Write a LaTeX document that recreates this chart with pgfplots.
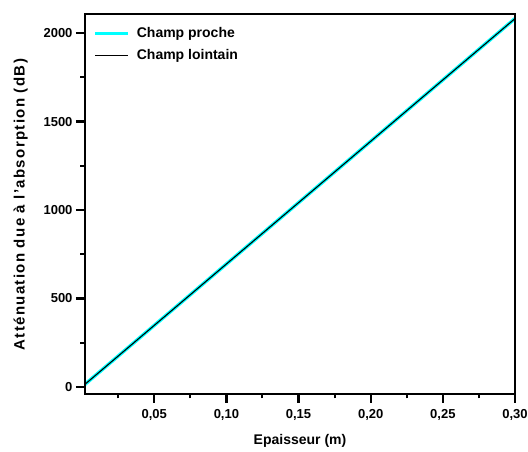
\documentclass[border=0pt]{standalone}
\usepackage{fontspec}
\setmainfont{Liberation Sans}
\usepackage{pgfplots}
\pgfplotsset{compat=1.18}
\definecolor{cy}{RGB}{0,255,255}
\begin{document}
\begin{tikzpicture}[x=1pt,y=1pt]
\useasboundingbox (0,0) rectangle (528,452);
\begin{axis}[
  at={(85pt,58pt)}, anchor=south west,
  scale only axis, width=430pt, height=380pt,
  xmin=0.002, xmax=0.30, ymin=-41, ymax=2109,
  axis line style={line width=2.8pt, line cap=rect},
  xtick pos=bottom, ytick pos=left,
  xtick={0.05,0.10,0.15,0.20,0.25,0.30},
  xticklabels={\textbf{0,05},\textbf{0,10},\textbf{0,15},\textbf{0,20},\textbf{0,25},\textbf{0,30}},
  minor xtick={0.025,0.075,0.125,0.175,0.225,0.275},
  ytick={0,500,1000,1500,2000},
  yticklabels={\textbf{0},\textbf{500},\textbf{1000},\textbf{1500},\textbf{2000}},
  minor ytick={250,750,1250,1750},
  tick align=outside,
  major tick length=9pt, minor tick length=4.5pt,
  every major tick/.append style={draw=black, line width=2.4pt},
  every minor tick/.append style={draw=black, line width=2pt},
  tick label style={font=\fontsize{13}{15}\selectfont},
  xticklabel style={yshift=-3pt},
  yticklabel style={xshift=0pt},
  xlabel={\textbf{Epaisseur (m)}},
  ylabel={\textbf{\addfontfeature{LetterSpace=9}Atténuation due à l'absorption (dB)}},
  xlabel style={font=\fontsize{14}{16}\selectfont, yshift=-7pt},
  ylabel style={font=\fontsize{15}{17}\selectfont, yshift=9pt},
  legend style={draw=none, fill=none, at={(0.012,0.975)}, anchor=north west,
    font=\fontsize{14}{16}\selectfont\bfseries, row sep=6pt},
  legend cell align=left,
  legend image code/.code={\draw[#1] (0pt,0pt) -- (33pt,0pt); \path (38pt,0pt);},
  clip=false,
]
\addplot[cy, line width=3.5pt] coordinates {(0.002,14) (0.30,2083)};
\addlegendentry{Champ proche}
\addplot[black, line width=1.1pt] coordinates {(0.002,14) (0.30,2083)};
\addlegendentry{Champ lointain}
\draw[line width=2.8pt, line cap=rect] (rel axis cs:0,0) rectangle (rel axis cs:1,1);
\end{axis}
\end{tikzpicture}
\end{document}
